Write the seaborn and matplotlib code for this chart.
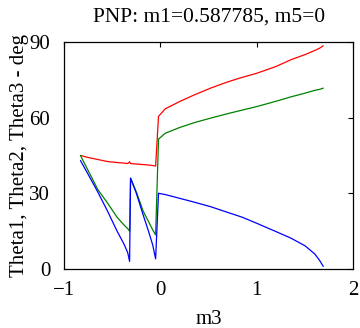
import matplotlib
matplotlib.use("Agg")
import matplotlib.pyplot as plt
import seaborn as sns
import pandas as pd

sns.set_theme(style="white")
plt.rcParams['font.family'] = ['Liberation Serif', 'DejaVu Serif']

m3 = [-0.83, -0.75, -0.65, -0.55, -0.45, -0.38, -0.34, -0.32,
      -0.31, -0.25, -0.18, -0.12, -0.08, -0.05,
      -0.02, 0.05, 0.2, 0.35, 0.52, 0.7, 0.85, 1.0, 1.2, 1.35, 1.5, 1.6, 1.65, 1.69]

theta1 = [45, 44.2, 43.4, 42.6, 42.2, 42.0, 41.8, 42.5,
          41.8, 41.6, 41.4, 41.2, 41.0, 40.8,
          60.5, 63.5, 66.4, 69.0, 71.7, 74.2, 76.0, 77.6, 80.3, 82.9, 85.0, 86.6, 87.5, 88.5]

theta2 = [45, 39, 31.5, 26.2, 20.5, 17.5, 16, 15,
          36, 30.5, 23, 18.5, 15.5, 13.5,
          51.5, 53.8, 56.1, 58.0, 59.8, 61.6, 63.0, 64.4, 66.5, 68.2, 69.7, 70.8, 71.2, 71.7]

theta3 = [43, 37.5, 30.5, 23, 15, 10, 6.5, 3,
          36, 30, 21.5, 14.5, 9.5, 4,
          30, 29.5, 28, 26.5, 24.7, 22.4, 20.5, 18.1, 14.8, 12.3, 9.2, 6.0, 3.5, 1.0]

df = pd.DataFrame({"m3": m3, "t1": theta1, "t2": theta2, "t3": theta3})

fig = plt.figure(figsize=(3.6, 3.28), dpi=100)
ax = fig.add_axes([0.178, 0.18, 0.803, 0.692])

sns.lineplot(data=df, x="m3", y="t1", color="#ff0000", lw=0.9, sort=False, ax=ax)
sns.lineplot(data=df, x="m3", y="t2", color="#008000", lw=0.9, sort=False, ax=ax)
sns.lineplot(data=df, x="m3", y="t3", color="#0000ff", lw=0.9, sort=False, ax=ax)

ax.set_xlim(-1, 2)
ax.set_ylim(0, 90)
ax.set_xticks([-1, 0, 1, 2])
ax.set_yticks([0, 30, 60, 90])
ax.tick_params(direction="in", top=True, right=True, length=3.5, width=0.8,
               labelsize=15, colors="black")
ax.tick_params(axis="x", pad=9)
ax.tick_params(axis="y", pad=10)
for s in ax.spines.values():
    s.set_color("black")
    s.set_linewidth(0.9)
ax.set_xlabel("m3", fontsize=15, color="black", labelpad=7)
ax.set_ylabel("Theta1, Theta2, Theta3 - deg", fontsize=15, color="black", labelpad=0)
ax.set_title("PNP: m1=0.587785, m5=0", fontsize=15.5, color="black", pad=15)

fig.savefig("out.png", dpi=100)
